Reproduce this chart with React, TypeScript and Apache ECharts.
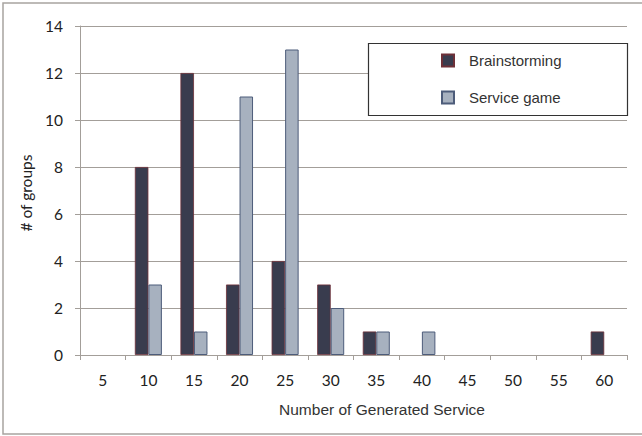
import React, { useEffect, useRef } from "react";
import * as echarts from "echarts";

const categories = ["5", "10", "15", "20", "25", "30", "35", "40", "45", "50", "55", "60"];
const brainstorming = [0, 8, 12, 3, 4, 3, 1, 0, 0, 0, 0, 1];
const serviceGame = [0, 3, 1, 11, 13, 2, 1, 1, 0, 0, 0, 0];
const yTicks = { min: 0, max: 14, interval: 2 };

const gridColor = "#a39e99";
const labelFont = "Lato, 'Open Sans', sans-serif";
const textFont = "'Liberation Sans', Arial, sans-serif";

// empty bins draw nothing rather than a flat outlined sliver
const toBars = (values: number[]) => values.map((v) => (v === 0 ? null : v));

export default function App() {
  const ref = useRef<HTMLDivElement>(null);

  useEffect(() => {
    if (!ref.current) return;
    const chart = echarts.init(ref.current, undefined, { renderer: "svg" });
    chart.setOption({
      animation: false,
      backgroundColor: "#ffffff",
      grid: { left: 80, top: 26, width: 547, height: 329, containLabel: false },
      legend: {
        left: 436,
        top: 48,
        z: 20,
        orient: "vertical",
        icon: "rect",
        itemWidth: 12,
        itemHeight: 12,
        itemGap: 22,
        selectedMode: false,
        textStyle: {
          fontFamily: textFont,
          fontSize: 15,
          color: "#333333",
          padding: [0, 0, 0, 10],
        },
        data: ["Brainstorming", "Service game"],
      },
      xAxis: {
        type: "category",
        data: categories,
        axisLine: { lineStyle: { color: gridColor, width: 1 } },
        axisTick: { show: true, length: 5, alignWithLabel: false, lineStyle: { color: gridColor } },
        axisLabel: { margin: 17, fontFamily: labelFont, fontSize: 15.5, color: "#222222" },
      },
      yAxis: {
        type: "value",
        min: yTicks.min,
        max: yTicks.max,
        interval: yTicks.interval,
        axisLine: { show: true, lineStyle: { color: gridColor, width: 1 } },
        axisTick: { show: true, length: 5, lineStyle: { color: gridColor } },
        splitLine: { show: true, lineStyle: { color: gridColor, width: 1 } },
        axisLabel: { margin: 17, fontFamily: labelFont, fontSize: 15.5, color: "#222222" },
      },
      graphic: [
        {
          type: "rect",
          shape: { x: 3, y: 3, width: 680, height: 431 },
          style: { fill: "none", stroke: "#a8a4a0", lineWidth: 1.5 },
          z: 1,
          silent: true,
        },
        {
          type: "rect",
          shape: { x: 368.5, y: 43.5, width: 259, height: 72 },
          style: { fill: "#ffffff", stroke: "#333333", lineWidth: 1.2 },
          z: 5,
          silent: true,
        },
        {
          type: "text",
          x: 382,
          y: 409,
          style: {
            text: "Number of Generated Service",
            fontFamily: textFont,
            fontSize: 15.5,
            fill: "#333333",
            align: "center",
            verticalAlign: "middle",
          },
        },
        {
          type: "text",
          x: 26,
          y: 193,
          rotation: Math.PI / 2,
          style: {
            text: "# of groups",
            fontFamily: labelFont,
            fontSize: 15.5,
            fill: "#222222",
            align: "center",
            verticalAlign: "middle",
          },
        },
      ],
      series: [
        {
          name: "Brainstorming",
          type: "bar",
          data: toBars(brainstorming),
          barWidth: 13.5,
          barGap: "0%",
          itemStyle: { color: "#393c4e", borderColor: "#6e3038", borderWidth: 0.8 },
        },
        {
          name: "Service game",
          type: "bar",
          data: toBars(serviceGame),
          barWidth: 13.5,
          barGap: "0%",
          itemStyle: { color: "#a7b1bf", borderColor: "#4d5c7a", borderWidth: 1 },
        },
      ],
    });
    return () => chart.dispose();
  }, []);

  return (
    <div
      ref={ref}
      style={{ position: "absolute", left: 0, top: 0, width: 642, height: 436 }}
    />
  );
}
